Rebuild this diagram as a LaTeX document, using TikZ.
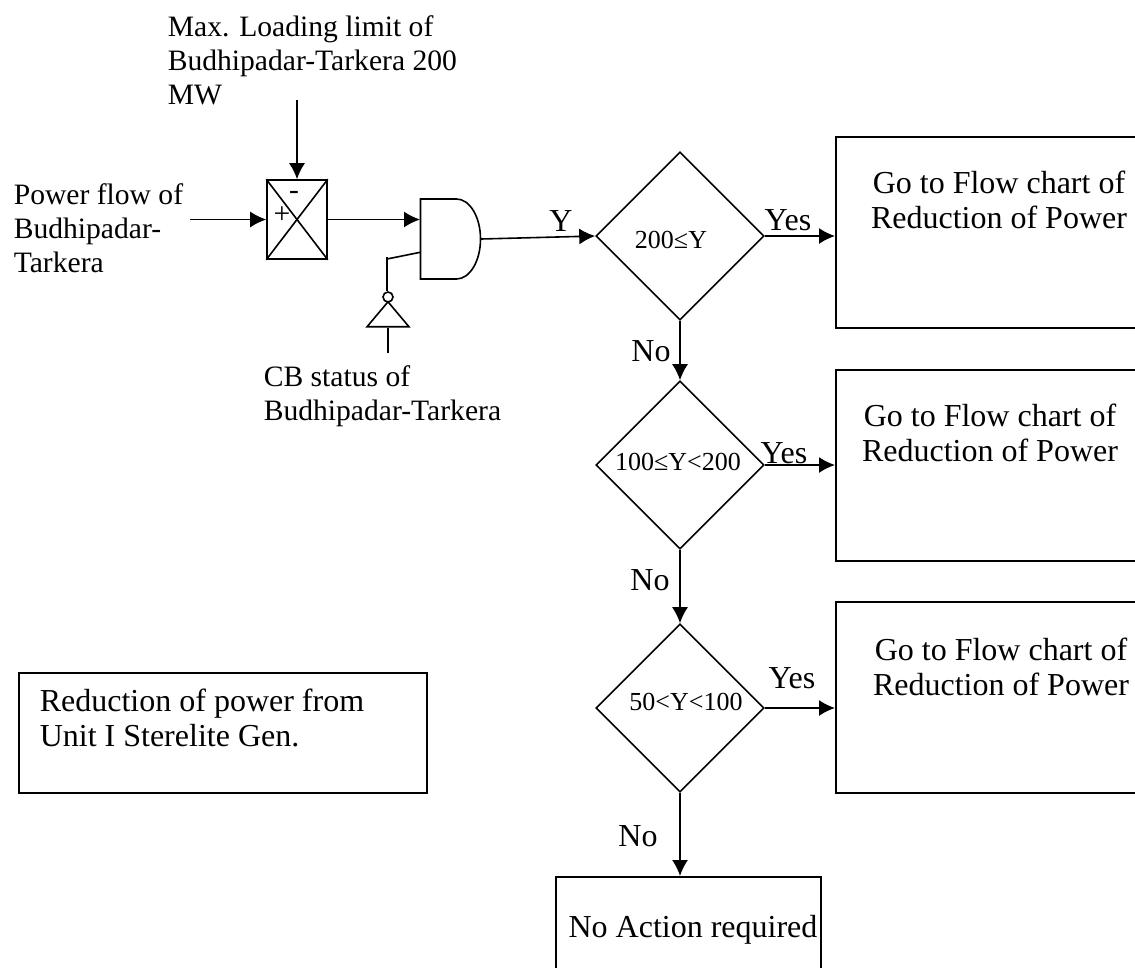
\documentclass[tikz,border=0pt]{standalone}
\usepackage{fontspec}
\setmainfont{Liberation Serif}
\usetikzlibrary{shapes.geometric, shapes.gates.logic.US, arrows.meta}

\begin{document}
\begin{tikzpicture}[x=1pt, y=-1pt, line width=1.6pt, >={Latex[length=16pt,width=16pt]},
	box/.style={rectangle, draw, anchor=north west, inner sep=0pt},
	decision/.style={diamond, draw, aspect=1, inner sep=0pt, minimum size=168pt},
	small/.style={inner sep=0pt, font=\fontsize{26}{30}\selectfont},
	label/.style={inner sep=0pt, font=\fontsize{32}{35}\selectfont},
	inputtext/.style={inner sep=0pt, align=left, anchor=north west, font=\fontsize{29.6}{34}\selectfont}]

	\useasboundingbox (0,0) rectangle (1135,967);
	\clip (0,0) rectangle (1135,967);

	\def \boxw {340pt}
	\def \boxh {191pt}

	% decisions
	\node[decision] (first) at (680,236) {};
	\node[decision] (second) at (680,465) {};
	\node[decision] (third) at (680,708) {};
	\node[small] (firsttext) at (671,240) {200≤Y};
	\node[small] (secondtext) at (678,462) {100≤Y<200};
	\node[small] (thirdtext) at (686,702) {50<Y<100};

	% result boxes, the right side falls outside of the page
	\node[box, minimum width=\boxw, minimum height=\boxh] (res1) at (835,136) {};
	\node[box, minimum width=\boxw, minimum height=\boxh] (res2) at (835,369) {};
	\node[box, minimum width=\boxw, minimum height=\boxh] (res3) at (835,601) {};
	\node[box, minimum width=265pt, minimum height=140pt] (noaction) at (555,876) {};
	\node[box, minimum width=408pt, minimum height=120pt] (reduction) at (18,672) {};

	\node[label, align=center] (res1text) at (999,200) {Go to Flow chart of\\Reduction of Power};
	\node[label, align=center] (res2text) at (990,433) {Go to Flow chart of\\Reduction of Power};
	\node[label, align=center] (res3text) at (1001,667) {Go to Flow chart of\\Reduction of Power};
	\node[label] (noactiontext) at (693,930) {No Action required};
	\node[label, align=left, anchor=north west] (reductiontext) at (39,688) {Reduction of power from\\Unit I Sterelite Gen.};

	% summing block
	\node[rectangle, draw, inner sep=0pt, minimum width=60pt, minimum height=79pt] (sum) at (297,219.5) {};
	\draw (sum.north west) -- (sum.south east);
	\draw (sum.south west) -- (sum.north east);
	\node[inputtext, anchor=center] (minus) at (294,195) {-};
	\node[inputtext, anchor=center] (plus) at (282,215) {+};

	% gates
	\node[and gate US, draw, logic gate inputs=nn, xscale=0.6, inner sep=0pt, minimum width=100pt, minimum height=80pt] (gate) at (448.5,239) {};
	\node[isosceles triangle, draw, shape border rotate=90, isosceles triangle stretches, inner sep=0pt, minimum width=42pt, minimum height=25pt] (inv) at (388,317) {};
	\node[circle, draw, inner sep=0pt, minimum size=10pt] (bubble) at (388,297) {};

	% free ends
	\coordinate (limit) at (297,100);
	\coordinate (flow) at (190,219.5);
	\coordinate (corner) at (387,259);
	\coordinate (stub) at (387,257);
	\coordinate (status) at (388,353);

	% inputs
	\draw[->] (limit) -- (sum.north);
	\draw[->] (flow) -- (sum.west);
	\draw[->] (sum.east) -- (gate.input 1 |- sum.east);
	\draw (gate.input 2) -- (corner);
	\draw (stub) -- (bubble.north -| stub);
	\draw (inv.lower side) -- (status);
	\draw[->] (gate.output) -- (first.west);

	% yes and no branches
	\draw[->] (first.east) -- (res1.west |- first.east);
	\draw[->] (second.east) -- (res2.west |- second.east);
	\draw[->] (third.east) -- (res3.west |- third.east);
	\draw[->] (first.south) -- (second.north);
	\draw[->] (second.south) -- (third.north);
	\draw[->] (third.south) -- (noaction.north -| third.south);

	% texts of the inputs
	\node[inputtext] (limittext) at (167,15) {Max. Loading limit of\\Budhipadar-Tarkera 200\\MW};
	\node[inputtext] (flowtext) at (13,183) {Power flow of\\Budhipadar-\\Tarkera};
	\node[inputtext] (statustext) at (263,365) {CB status of\\Budhipadar-Tarkera};

	% branch labels
	\node[label] (ytext) at (561,221) {Y};
	\node[label] (yes1) at (788,220) {Yes};
	\node[label] (yes2) at (784,453) {Yes};
	\node[label] (yes3) at (792,678) {Yes};
	\node[label] (no1) at (651,351) {No};
	\node[label] (no2) at (650,580) {No};
	\node[label] (no3) at (638,836) {No};

\end{tikzpicture}
\end{document}
